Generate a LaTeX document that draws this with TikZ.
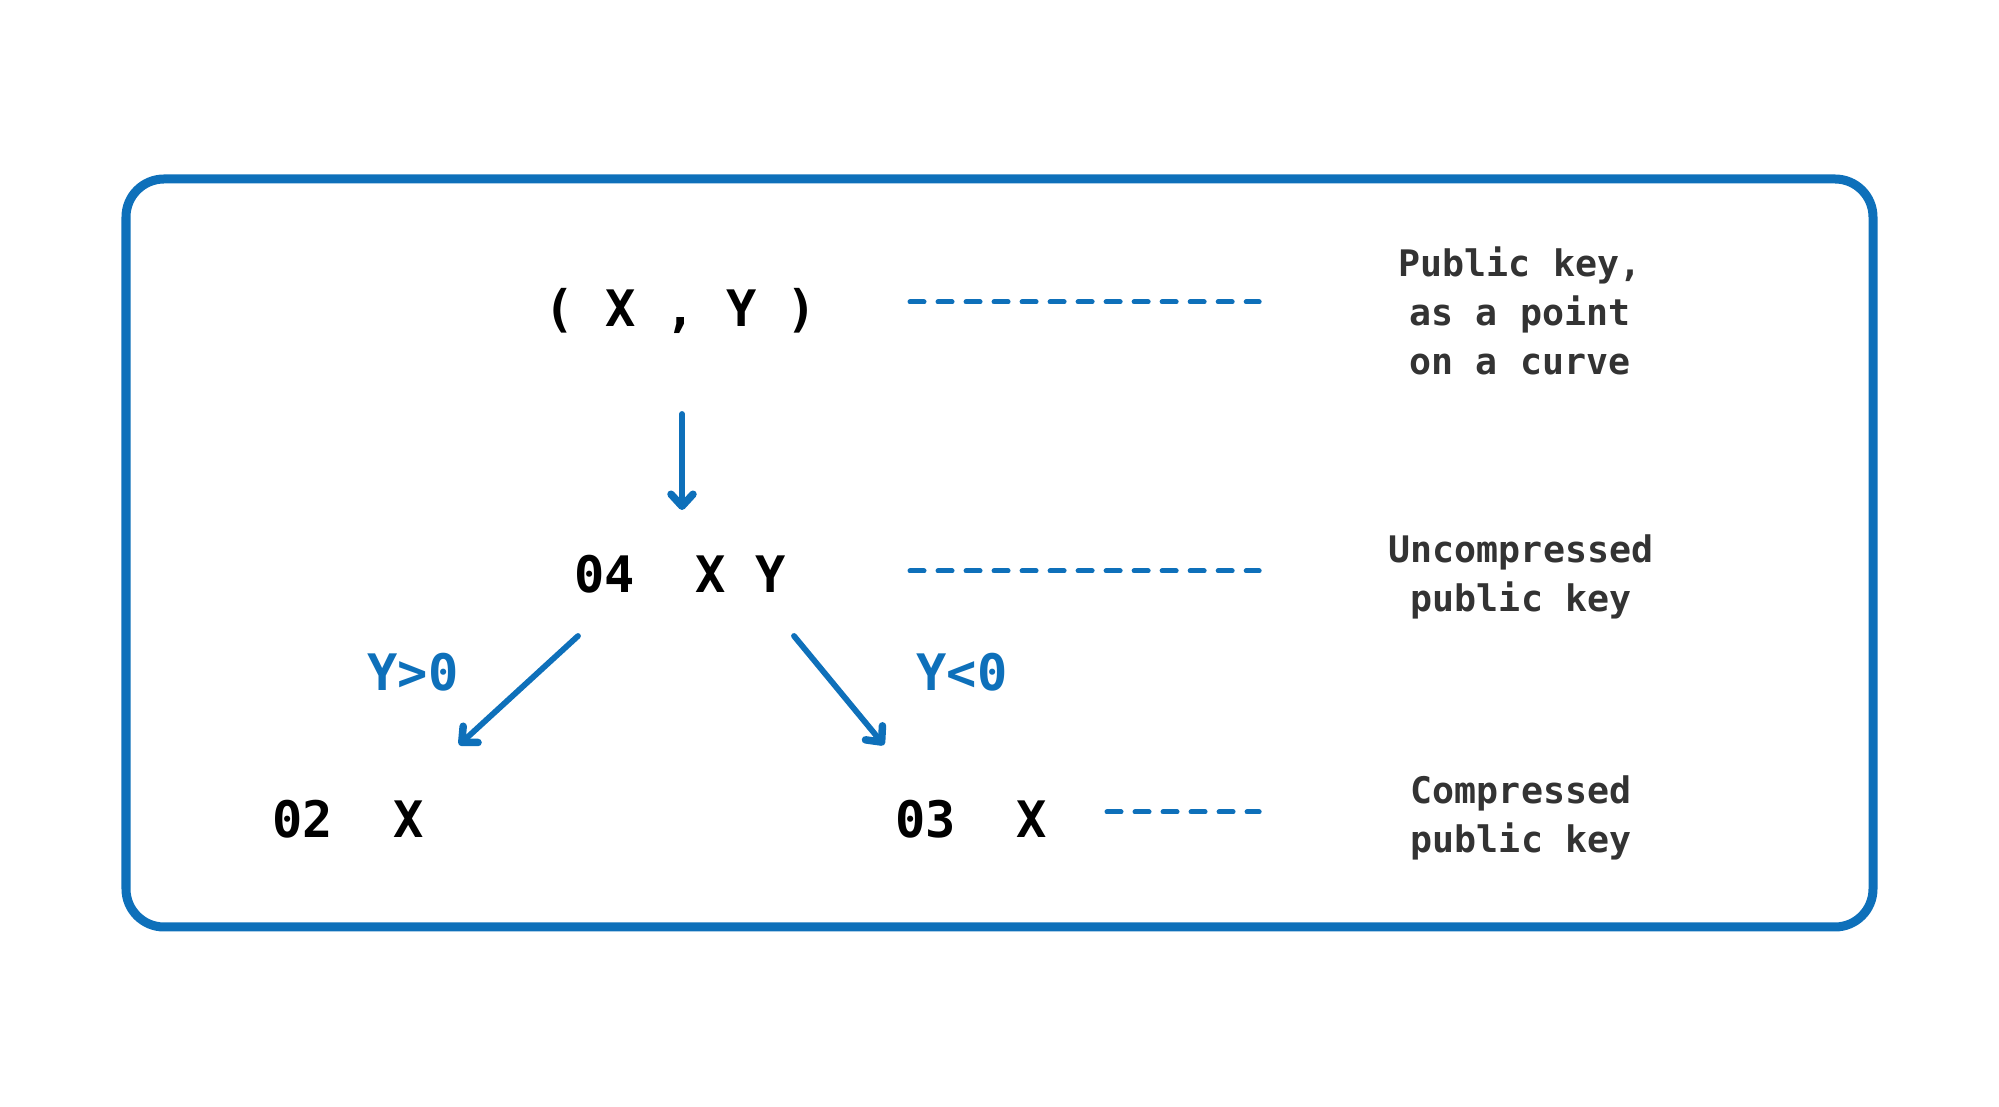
\documentclass[tikz,border=0pt]{standalone}
\usepackage{fontspec}
\usetikzlibrary{arrows.meta,calc}
\newfontfamily\keymono{DejaVu Sans Mono}
\definecolor{keyblue}{RGB}{14,112,186}
\definecolor{labgray}{RGB}{51,51,51}
\begin{document}
\begin{tikzpicture}[x=0.01cm,y=-0.01cm,
  main/.style={font=\keymono\bfseries\fontsize{14.3}{17}\selectfont, text=black, inner sep=0, anchor=base},
  cond/.style={main, text=keyblue},
  lab/.style={font=\keymono\bfseries\fontsize{10.4}{13.94}\selectfont, text=labgray, align=center, inner sep=0},
  guide/.style={draw=keyblue, line width=0.05cm, dash pattern=on 0.14cm off 0.14cm, line cap=round},
  arr/.style={draw=keyblue, line width=0.058cm, line cap=round, -{Straight Barb[length=0.12cm,width=0.22cm,line width=0.075cm,line cap=round,line join=round]}},
  frame/.style={draw=keyblue, line width=0.09cm, rounded corners=0.38cm}]

\useasboundingbox (0,0) rectangle (1999,1107);
\draw[frame] (126,179) rectangle (1873,927);

\node[main] (pt) at (681,327) {( X , Y )};
\node[main] (unc) at (680,593) {04~~X Y};
\node[main] (c02) at (348,838) {02~~X};
\node[main] (c03) at (971,838) {03~~X};
\node[cond] (gt) at (413,691) {Y>0};
\node[cond] (lt) at (962,691) {Y<0};

\node[lab] (lpub) at (1520,311) {Public key,\\as a point\\on a curve};
\node[lab] (lunc) at (1521,577) {Uncompressed\\public key};
\node[lab] (lcmp) at (1521,818) {Compressed\\public key};

\draw[arr] ($(pt.base)+(1,87)$) -- ($(unc.base)+(2,-83)$);
\draw[arr] ($(unc.base)+(-102,43)$) -- ($(c02.base)+(111,-93)$);
\draw[arr] ($(unc.base)+(114,43)$) -- ($(c03.base)+(-87,-93)$);

\coordinate (g1) at ($(pt.base)+(229,-25)$);
\coordinate (g2) at ($(unc.base)+(230,-22)$);
\coordinate (g3) at ($(c03.base)+(136,-26)$);
\draw[guide] (g1) -- ($(g1 -| lpub.west)+(-139,0)$);
\draw[guide] (g2) -- ($(g2 -| lpub.west)+(-139,0)$);
\draw[guide] (g3) -- ($(g3 -| lpub.west)+(-139,0)$);
\end{tikzpicture}
\end{document}
